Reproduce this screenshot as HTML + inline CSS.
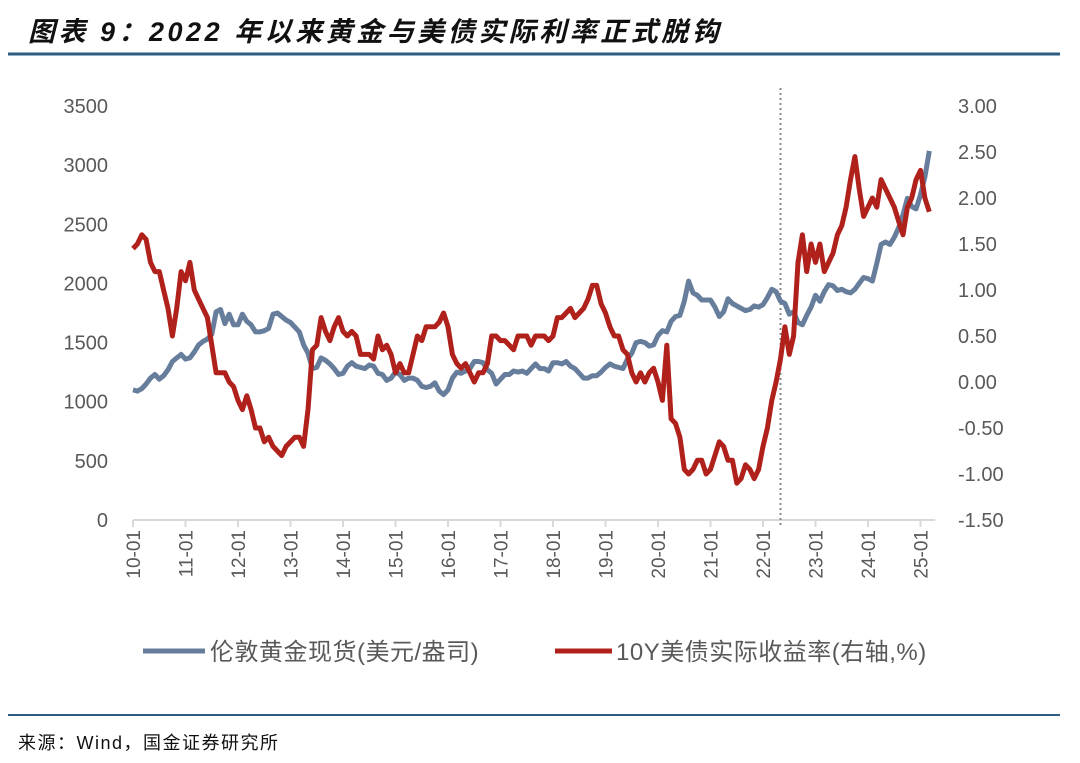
<!DOCTYPE html>
<html><head><meta charset="utf-8">
<style>
body{margin:0;background:#fff;width:1080px;height:758px;overflow:hidden;font-family:"Liberation Sans","Noto Sans CJK SC",sans-serif;}
</style></head>
<body>
<svg width="1080" height="758" xmlns="http://www.w3.org/2000/svg">
<text x="28" y="41" font-size="27" letter-spacing="3.5" font-weight="bold" font-style="italic" fill="#111" font-family="'Liberation Sans','Noto Sans CJK SC',sans-serif">图表 9：2022 年以来黄金与美债实际利率正式脱钩</text>
<line x1="8" y1="54" x2="1060" y2="54" stroke="#2e5b82" stroke-width="3"/>
<g id="axes"></g>
<g id="series"></g>
<g>
<g>
<line x1="143" y1="651" x2="205" y2="651" stroke="#677d9c" stroke-width="5"/>
<text x="210" y="660" font-size="24" letter-spacing="0.5" fill="#595959">伦敦黄金现货(美元/盎司)</text></g>
<g>
<line x1="555" y1="651" x2="612" y2="651" stroke="#b0211b" stroke-width="5"/>
<text x="616" y="660" font-size="24" letter-spacing="0.5" fill="#595959">10Y美债实际收益率(右轴,%)</text></g>
</g>
<line x1="8" y1="715" x2="1060" y2="715" stroke="#2e5b82" stroke-width="2"/>
<text x="18" y="749" font-size="18" letter-spacing="1.5" fill="#111">来源：Wind，国金证券研究所</text>
</svg>
<script>
const leftTicks=[0,500,1000,1500,2000,2500,3000,3500];
const rightTicks=["3.00","2.50","2.00","1.50","1.00","0.50","0.00","-0.50","-1.00","-1.50"];
const xLabels=["10-01","11-01","12-01","13-01","14-01","15-01","16-01","17-01","18-01","19-01","20-01","21-01","22-01","23-01","24-01","25-01"];
const startYear=2010;
const goldPrice=[1100,1090,1110,1150,1200,1230,1190,1220,1270,1340,1370,1400,
1360,1370,1420,1480,1510,1530,1570,1760,1780,1660,1740,1650,
1650,1740,1680,1650,1590,1590,1600,1620,1740,1750,1720,1690,
1670,1630,1590,1480,1410,1280,1290,1370,1350,1320,1280,1230,
1240,1300,1330,1300,1290,1280,1310,1300,1240,1230,1180,1200,
1250,1230,1180,1200,1200,1180,1130,1120,1130,1160,1090,1060,
1100,1200,1250,1240,1260,1280,1340,1340,1330,1270,1240,1150,
1190,1230,1230,1260,1250,1260,1240,1280,1320,1280,1280,1260,
1330,1330,1320,1340,1300,1280,1240,1200,1200,1220,1220,1250,
1290,1320,1300,1290,1280,1360,1410,1500,1510,1500,1470,1480,
1560,1600,1590,1680,1720,1730,1850,2020,1920,1900,1860,1860,
1860,1800,1720,1760,1870,1830,1810,1790,1770,1780,1810,1800,
1820,1880,1950,1930,1850,1830,1740,1760,1670,1650,1730,1800,
1900,1850,1930,1990,1980,1940,1950,1930,1920,1950,2000,2050,
2040,2020,2170,2330,2350,2330,2390,2470,2580,2720,2650,2630,
2750,2900,3120];
const realYield=[1.45,1.5,1.6,1.55,1.3,1.2,1.2,1.0,0.8,0.5,0.8,1.2,
1.1,1.3,1.0,0.9,0.8,0.7,0.4,0.1,0.1,0.1,0.0,-0.05,
-0.2,-0.3,-0.15,-0.3,-0.5,-0.5,-0.65,-0.6,-0.7,-0.75,-0.8,-0.7,
-0.65,-0.6,-0.6,-0.7,-0.3,0.35,0.4,0.7,0.55,0.45,0.6,0.7,
0.55,0.5,0.55,0.5,0.3,0.3,0.3,0.25,0.5,0.35,0.4,0.3,
0.1,0.2,0.1,0.1,0.3,0.5,0.45,0.6,0.6,0.6,0.65,0.75,
0.6,0.3,0.2,0.15,0.2,0.1,0.0,0.1,0.1,0.2,0.5,0.5,
0.45,0.45,0.4,0.35,0.5,0.5,0.5,0.4,0.5,0.5,0.5,0.45,
0.5,0.7,0.7,0.75,0.8,0.7,0.75,0.8,0.9,1.05,1.05,0.85,
0.75,0.6,0.5,0.5,0.35,0.3,0.1,0.0,0.1,0.0,0.1,0.15,
0.0,-0.2,0.4,-0.4,-0.45,-0.6,-0.95,-1.0,-0.95,-0.85,-0.85,-1.0,
-0.95,-0.8,-0.65,-0.7,-0.85,-0.85,-1.1,-1.05,-0.9,-0.95,-1.05,-0.95,
-0.7,-0.5,-0.2,0.0,0.25,0.6,0.3,0.5,1.3,1.6,1.2,1.5,
1.3,1.5,1.2,1.3,1.4,1.6,1.7,1.9,2.2,2.45,2.1,1.8,
1.9,2.0,1.9,2.2,2.1,2.0,1.9,1.75,1.6,1.9,2.0,2.2,
2.3,2.0,1.85];
const markerMonth=2022+4/12;
const NS="http://www.w3.org/2000/svg";
const X0=133,PX_PER_YEAR=52.5,YTOP=106,YBOT=520;
const xScale=t=>X0+(t-startYear)*PX_PER_YEAR;
const yLeft=v=>YBOT-(v-0)/(3500-0)*(YBOT-YTOP);
const yRight=v=>YBOT-(v+1.5)/(3.0+1.5)*(YBOT-YTOP);
function mk(tag,attrs,parent){const e=document.createElementNS(NS,tag);for(const k in attrs)e.setAttribute(k,attrs[k]);parent.appendChild(e);return e;}
const axes=document.getElementById('axes'),series=document.getElementById('series');
leftTicks.forEach(v=>{const t=mk('text',{x:108,y:yLeft(v)+7,'text-anchor':'end','font-size':20,fill:'#595959'},axes);t.textContent=v;

});
rightTicks.forEach(s=>{const t=mk('text',{x:958,y:yRight(parseFloat(s))+7,'text-anchor':'start','font-size':20,fill:'#595959'},axes);t.textContent=s;

});
const xEnd=xScale(startYear+(goldPrice.length-1)/12)+6;
const ax=mk('line',{x1:X0,y1:YBOT,x2:xEnd,y2:YBOT,stroke:'#d9d9d9','stroke-width':2},axes);


xLabels.forEach((s,i)=>{const x=xScale(startYear+i);
const tk=mk('line',{x1:x,y1:YBOT,x2:x,y2:YBOT+7,stroke:'#d9d9d9','stroke-width':2},axes);


const t=mk('text',{x:0,y:0,'text-anchor':'end','font-size':19,fill:'#595959',transform:`translate(${x+7},${YBOT+10}) rotate(-90)`},axes);t.textContent=s;

});
const mx=xScale(markerMonth);
const ml=mk('line',{x1:mx,y1:88,x2:mx,y2:YBOT+8,stroke:'#888','stroke-width':2,'stroke-dasharray':'2,3'},axes);


function path(arr,ys){return arr.map((v,i)=>(i?'L':'M')+xScale(startYear+i/12).toFixed(1)+','+ys(v).toFixed(1)).join(' ');}
const g=mk('path',{d:path(goldPrice,yLeft),fill:'none',stroke:'#677d9c','stroke-width':5,'stroke-linejoin':'round'},series);


const r=mk('path',{d:path(realYield,yRight),fill:'none',stroke:'#b0211b','stroke-width':5,'stroke-linejoin':'round'},series);


</script>
</body></html>
